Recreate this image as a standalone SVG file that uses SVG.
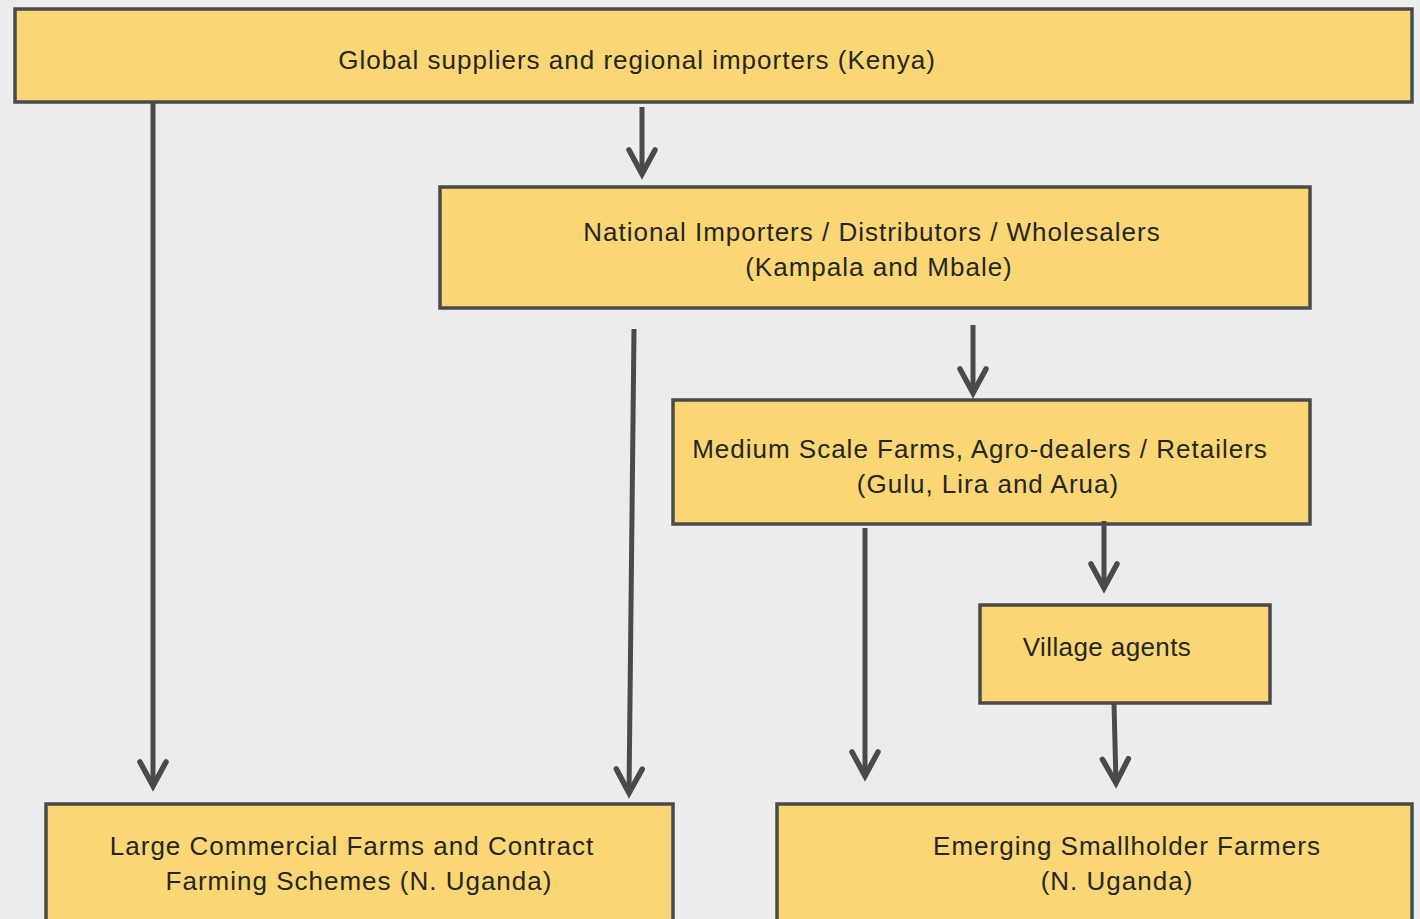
<svg xmlns="http://www.w3.org/2000/svg" width="1420" height="919" viewBox="0 0 1420 919">
<style>
.box{fill:#fad674;stroke:#4a4a4a;stroke-width:3.5}
.t{font-family:"Liberation Sans",Arial,sans-serif;font-size:26px;fill:#262626;text-anchor:middle;letter-spacing:1px}
.c{stroke:#4a4a4a;stroke-width:5;fill:none;stroke-linecap:butt}
</style>
<defs>
<marker id="ah" markerUnits="userSpaceOnUse" markerWidth="40" markerHeight="40" refX="0" refY="0" viewBox="-30 -20 40 40" orient="auto" overflow="visible">
<path d="M -24 -13 L 0 0 L -24 13" fill="none" stroke="#4a4a4a" stroke-width="5.5" stroke-linecap="round" stroke-linejoin="miter"/>
</marker>
</defs>
<rect width="1420" height="919" fill="#ebecee"/>
<g id="n1"><rect class="box" x="15" y="9" width="1397" height="93"/><text class="t" x="637" y="69">Global suppliers and regional importers (Kenya)</text></g>
<g id="n2"><rect class="box" x="440" y="187" width="870" height="121"/><text class="t" x="872" y="241">National Importers / Distributors / Wholesalers</text><text class="t" x="879" y="276">(Kampala and Mbale)</text></g>
<g id="n3"><rect class="box" x="673" y="400" width="637" height="124"/><text class="t" x="980" y="458">Medium Scale Farms, Agro-dealers / Retailers</text><text class="t" x="988" y="493">(Gulu, Lira and Arua)</text></g>
<g id="n4"><rect class="box" x="980" y="605" width="290" height="98"/><text class="t" x="1107" y="656" style="letter-spacing:0.4px">Village agents</text></g>
<g id="n5"><rect class="box" x="46" y="804" width="627" height="130"/><text class="t" x="352" y="855">Large Commercial Farms and Contract</text><text class="t" x="359" y="890">Farming Schemes (N. Uganda)</text></g>
<g id="n6"><rect class="box" x="777" y="804" width="635" height="130"/><text class="t" x="1127" y="855">Emerging Smallholder Farmers</text><text class="t" x="1117" y="890">(N. Uganda)</text></g>
<g id="connectors">
<path class="c" d="M153 103 L153 786" marker-end="url(#ah)"/>
<path class="c" d="M642 107 L642 174" marker-end="url(#ah)"/>
<path class="c" d="M634 329 L629 793" marker-end="url(#ah)"/>
<path class="c" d="M973 325 L973 393" marker-end="url(#ah)"/>
<path class="c" d="M865 528 L865 776" marker-end="url(#ah)"/>
<path class="c" d="M1104 521 L1104 588" marker-end="url(#ah)"/>
<path class="c" d="M1114 703 L1116 783" marker-end="url(#ah)"/>
</g>
</svg>
